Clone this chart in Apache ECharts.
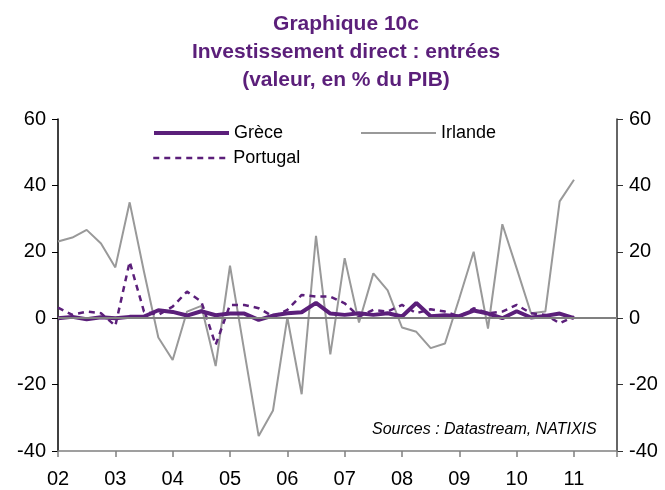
<!DOCTYPE html>
<html>
<head>
<meta charset="utf-8">
<script src="https://cdn.jsdelivr.net/npm/echarts@6/dist/echarts.min.js"></script>
<style>html,body{margin:0;padding:0;background:#fff;}#c{width:665px;height:490px;}</style>
</head>
<body>
<div id="c"></div>
<script>
// Quarterly data, 2002Q1 .. 2011Q1 (index 0 = 2002Q1)
var yearLabels = ['02','03','04','05','06','07','08','09','10','11'];
var grece = [0, 0.4, -0.3, 0.3, 0, 0.4, 0.5, 2.4, 1.9, 0.8, 2.1, 0.9, 1.4, 1.4, -0.5, 0.8, 1.5, 1.8, 4.6, 1.4, 1.0, 1.5, 1.0, 1.5, 0.5, 4.6, 0.6, 0.9, 0.6, 2.3, 1.4, 0, 2.1, 0.2, 0.7, 1.4, 0];
var irlande = [23.1, 24.3, 26.6, 22.5, 15.3, 34.9, 14, -5.8, -12.6, 2.0, 3.7, -14.4, 15.8, -10, -35.5, -27.8, 0.2, -22.9, 24.8, -10.9, 18.1, -1.3, 13.5, 8.4, -2.8, -4.1, -9.0, -7.6, 6, 20.0, -3.1, 28.3, 15, 1.5, 2.0, 35.2, 41.7];
var portugal = [3.2, 1.0, 2.0, 1.5, -2.3, 17, 2, 1, 3.5, 8, 5, -8, 4, 4, 3, 0.5, 2.5, 7, 6.5, 6.5, 4.5, 0.5, 2.5, 2, 4, 1.5, 2.7, 2, 0.5, 3, 1.5, 2, 4, 1.5, 1, -1.5, 0.5];

function pairs(arr){ return arr.map(function(v,i){ return [i, v]; }); }

var purple = '#5b1f7a';
var chart = echarts.init(document.getElementById('c'), null, {renderer:'canvas'});
var font = 'Liberation Sans, Arial, sans-serif';
function legendItem(name, left, top, line){
  return {data: [name], left: left, top: top, itemWidth: 75, itemHeight: 14, itemGap: 0,
    itemStyle: {opacity: 0}, lineStyle: line,
    textStyle: {fontFamily: font, fontSize: 18, color: '#000'}};
}
chart.setOption({
  animation: false,
  backgroundColor: '#fff',
  title: {
    text: 'Graphique 10c\nInvestissement direct : entrées\n(valeur, en % du PIB)',
    left: 341, top: 5, textAlign: 'center',
    textStyle: {fontFamily: font, fontSize: 21, fontWeight: 'bold', color: purple, lineHeight: 28}
  },
  legend: [
    legendItem('Grèce', 147, 119, {width: 4, color: purple}),
    legendItem('Irlande', 355, 119, {width: 2, color: '#999999'}),
    legendItem('Portugal', 147, 144, {width: 2.5, color: purple, type: [6, 5]})
  ],
  grid: {left: 58, right: 48, top: 119, bottom: 39, containLabel: false},
  graphic: [{
    type: 'text', left: 372, top: 422,
    style: {text: 'Sources : Datastream, NATIXIS', fontFamily: font, fontSize: 16, fontStyle: 'italic', fill: '#000'}
  }],
  xAxis: {
    type: 'value', min: 0, max: 39, interval: 4,
    axisLine: {show: true, onZero: false, lineStyle: {color: '#808080', width: 1.5}},
    axisTick: {show: true, length: 6, lineStyle: {color: '#808080', width: 1.5}},
    splitLine: {show: false},
    axisLabel: {
      fontFamily: font, fontSize: 20, color: '#000', margin: 18,
      formatter: function(v){ return (v % 4 === 0 && v/4 < yearLabels.length) ? yearLabels[v/4] : ''; }
    }
  },
  yAxis: [
    {type: 'value', min: -40, max: 60, interval: 20, position: 'left',
     axisLine: {show: true, lineStyle: {color: '#000', width: 1.5}},
     axisTick: {show: true, length: 6, lineStyle: {color: '#000'}},
     splitLine: {show: false},
     axisLabel: {fontFamily: font, fontSize: 20, color: '#000', margin: 12}},
    {type: 'value', min: -40, max: 60, interval: 20, position: 'right',
     axisLine: {show: true, lineStyle: {color: '#333', width: 1.5}},
     axisTick: {show: true, length: 6, lineStyle: {color: '#333'}},
     splitLine: {show: false},
     axisLabel: {fontFamily: font, fontSize: 20, color: '#000', margin: 12}}
  ],
  series: [
    {name: 'Irlande', type: 'line', data: pairs(irlande), symbol: 'none',
     lineStyle: {color: '#999999', width: 2}, itemStyle: {color: '#999999'}, z: 2,
     markLine: {silent: true, symbol: 'none', label: {show: false},
       lineStyle: {color: '#808080', width: 2, type: 'solid'}, data: [{yAxis: 0}]}},
    {name: 'Portugal', type: 'line', data: pairs(portugal), symbol: 'none',
     lineStyle: {color: purple, width: 2.5, type: [6, 5]}, itemStyle: {color: purple}, z: 3},
    {name: 'Grèce', type: 'line', data: pairs(grece), symbol: 'none',
     lineStyle: {color: purple, width: 4}, itemStyle: {color: purple}, z: 4}
  ]
});
</script>
</body>
</html>
